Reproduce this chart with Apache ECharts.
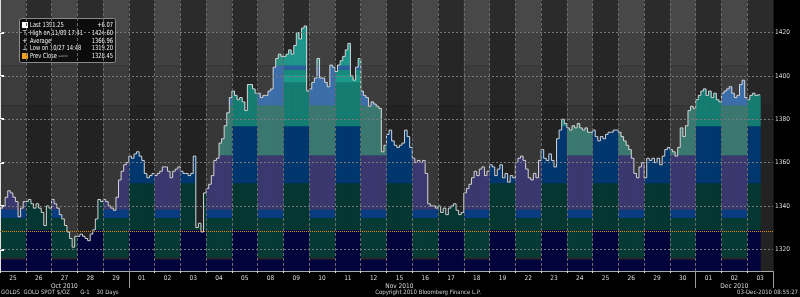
<!DOCTYPE html>
<html><head><meta charset="utf-8">
<script src="https://cdn.jsdelivr.net/npm/echarts@6/dist/echarts.min.js"></script>
<style>html,body{margin:0;padding:0;background:#000;}#c{width:800px;height:297px;}</style>
</head><body><div id="c"></div>
<script>
// ---------- data ----------
const dayLabels = ['25','26','27','28','29','01','02','03','04','05','08','09','10','11','12','15','16','17','18','19','22','23','24','25','26','29','30','01','02','03'];
const monthLabelDays = [2, 15, 28];
const monthLabelTexts = ['Oct 2010', 'Nov 2010', 'Dec 2010'];
const monthStartDays = [5, 27];
const barsPerDay = 10;
const closes = [
  1339,1340,1344,1347,1346,1344,1342,1335,1339,1342,
  1342,1343,1341,1339,1341,1339,1337,1331,1340,1339,
  1343,1341,1339,1336,1334,1331,1328,1325,1321,1326,
  1326,1327,1326,1325,1324,1327,1329,1334,1343,1342,
  1343,1342,1340,1339,1338,1344,1352,1356,1359,1360,
  1363,1362,1364,1365,1363,1361,1355,1353,1354,1355,
  1354,1355,1356,1358,1358,1356,1353,1356,1357,1358,
  1356,1355,1355,1354,1355,1363,1330,1332,1328,1346,
  1348,1350,1354,1361,1362,1369,1371,1377,1383,1390,
  1393,1391,1389,1390,1388,1384,1396,1396,1394,1392,
  1392,1390,1391,1391,1393,1394,1404,1408,1410,1409,
  1409,1410,1412,1410,1414,1420,1417,1422,1423,1393,
  1394,1397,1399,1408,1399,1399,1397,1395,1405,1404,
  1402,1405,1407,1409,1412,1415,1400,1398,1404,1408,
  1393,1391,1390,1386,1388,1387,1386,1385,1365,1368,
  1373,1375,1370,1368,1367,1368,1369,1375,1372,1367,
  1362,1360,1361,1360,1361,1355,1341,1340,1340,1339,
  1340,1337,1339,1336,1339,1340,1341,1338,1336,1337,
  1346,1348,1350,1353,1356,1354,1357,1358,1354,1356,
  1359,1358,1354,1357,1359,1353,1355,1351,1354,1353,
  1360,1362,1363,1361,1357,1353,1352,1355,1353,1361,
  1366,1362,1361,1364,1361,1358,1371,1375,1380,1378,
  1376,1375,1377,1376,1378,1376,1375,1376,1374,1374,
  1375,1372,1370,1372,1371,1373,1374,1374,1375,1375,
  1374,1372,1370,1368,1366,1362,1355,1353,1358,1360,
  1353,1362,1361,1362,1360,1362,1359,1363,1366,1367,
  1366,1365,1363,1367,1376,1372,1377,1384,1386,1385,
  1389,1391,1393,1394,1391,1393,1390,1392,1389,1388,
  1392,1393,1394,1395,1392,1390,1391,1396,1398,1390,
  1389,1391,1392,1391,1391.25
];
const yTicks = [1320, 1340, 1360, 1380, 1400, 1420];
const yMin = 1310, yMax = 1435;
const prevClose = 1328.45;
const lastPrice = 1391.25;
const legendNames = ['Last 1391.25', 'High on 11/09 17:41', 'Average', 'Low on 10/27 14:48', 'Prev Close -----'];
const legendValues = ['+6.07', '1424.60', '1366.96', '1319.20', '1328.45'];
const footerLeft = 'GOLDS  GOLD SPOT $/OZ      G-1    30 Days';
const footerMid = 'Copyright 2010 Bloomberg Finance L.P.';
const footerRight = '03-Dec-2010 08:55:27';

// ---------- styling (price zones and colours) ----------
const oddBands = [[1310,1329,'#04043c'],[1329,1350.6,'#053732'],[1350.6,1376.9,'#00376e'],[1376.9,1397.1,'#157c72'],[1397.1,1400.8,'#1a9a8a'],[1400.8,1403,'#178a7e'],[1403,1404.9,'#2a60a0'],[1404.9,1440,'#1e968c']];
const evenBands = [[1310,1315.5,'#04043c'],[1315.5,1316.4,'#2a2a2a'],[1316.4,1334.6,'#053a35'],[1334.6,1338.5,'#0a3c82'],[1338.5,1363.5,'#3a386e'],[1363.5,1386.5,'#3a7870'],[1386.5,1404.9,'#3c6eaa'],[1404.9,1440,'#2a9082']];
const evenBg = [[1310,1386.5,'#373737'],[1386.5,1404.9,'#3c3c3c'],[1404.9,1420,'#414141'],[1420,1440,'#484848']];
const oddBg = [[1310,1386.5,'#222222'],[1386.5,1420,'#262626'],[1420,1440,'#2b2b2b']];
const FONT = "'DejaVu Sans Condensed', 'Liberation Sans Narrow', 'Liberation Sans', sans-serif";

function bandRects(api, x0, x1, bands, top) {
  const out = [];
  for (const [lo, hi, color] of bands) {
    const t = Math.min(hi, top);
    if (t <= lo) continue;
    const p0 = api.coord([x0, t]);
    const p1 = api.coord([x1, lo]);
    out.push({type: 'rect', shape: {x: p0[0], y: p0[1], width: p1[0] - p0[0] + 0.6, height: p1[1] - p0[1] + 0.3}, style: {fill: color}});
  }
  return out;
}
function bgRender(params, api) {
  const d = api.value(0);
  return {type: 'group', children: bandRects(api, d * barsPerDay, (d + 1) * barsPerDay, d % 2 === 0 ? evenBg : oddBg, yMax)};
}
function fillRender(params, api) {
  const i = api.value(0), c = api.value(1);
  const d = Math.floor(i / barsPerDay);
  return {type: 'group', children: bandRects(api, i, i + 1, d % 2 === 0 ? evenBands : oddBands, c)};
}
function lineRender(params, api) {
  const i = api.value(0), c = api.value(1), p = api.value(2);
  const a = api.coord([i, p]), b = api.coord([i, c]), e = api.coord([i + 1, c]);
  return {type: 'polyline', shape: {points: [a, b, e]}, style: {stroke: '#d4d4d4', lineWidth: 1, fill: null}};
}

const chart = echarts.init(document.getElementById('c'), null, {renderer: 'canvas'});
const legendChildren = [{type: 'rect', shape: {x: 19.5, y: 18.5, width: 96, height: 44, r: 2}, style: {fill: 'rgba(8,8,8,0.88)', stroke: '#8a8a8a', lineWidth: 1}}];
const rowY = [25, 33, 40.7, 48.3, 56];
const icons = ['', '\u22A4', '+', '\u22A5', ''];
legendNames.forEach((n, k) => {
  if (k === 0 || k === 4) {
    legendChildren.push({type: 'rect', shape: {x: 22, y: rowY[k] - 3, width: 6, height: 6}, style: {fill: k === 0 ? '#ffffff' : '#f0a020'}});
  } else {
    legendChildren.push({type: 'text', x: 25, y: rowY[k], style: {text: icons[k], fill: '#fff', fontSize: 7, fontFamily: FONT, textAlign: 'center', textVerticalAlign: 'middle'}});
  }
  legendChildren.push({type: 'text', x: 30, y: rowY[k], scaleX: 0.82, style: {text: n, fill: '#f4f4f4', fontSize: 7, fontFamily: FONT, textVerticalAlign: 'middle'}});
  legendChildren.push({type: 'text', x: 113, y: rowY[k], scaleX: 0.82, style: {text: legendValues[k], fill: '#f4f4f4', fontSize: 7, fontFamily: FONT, textAlign: 'right', textVerticalAlign: 'middle'}});
});

const option = {
  backgroundColor: '#000',
  animation: false,
  grid: {left: 0, right: 27, top: 0, bottom: 26, containLabel: false},
  xAxis: [
    {type: 'category', data: dayLabels, boundaryGap: true, position: 'bottom',
     axisLine: {show: true, lineStyle: {color: '#aaa', width: 1}},
     axisTick: {show: true, length: 2, lineStyle: {color: '#ddd'}},
     axisLabel: {color: '#dcdcdc', fontSize: 6.5, fontFamily: FONT, margin: 3, lineHeight: 8, interval: 0,
       formatter: (v, idx) => { const m = monthLabelDays.indexOf(idx); return m >= 0 ? v + '\n' + monthLabelTexts[m] : v; }},
     splitLine: {show: false}},
    {type: 'category', data: dayLabels, boundaryGap: true, position: 'bottom',
     axisLine: {show: false}, axisLabel: {show: false}, splitLine: {show: false},
     axisTick: {show: true, length: 17, interval: (idx) => monthStartDays.indexOf(idx) >= 0, lineStyle: {color: '#9a9a9a', width: 1}}},
    {type: 'value', min: 0, max: dayLabels.length * barsPerDay, show: false}
  ],
  yAxis: {type: 'value', position: 'right', min: yMin, max: yMax,
    axisLine: {show: true, lineStyle: {color: '#e0e0e0', width: 1}},
    axisTick: {show: true, customValues: yTicks, length: 4, lineStyle: {color: '#fff', width: 2}},
    axisLabel: {show: true, customValues: yTicks, color: '#dcdcdc', fontSize: 6.5, fontFamily: FONT, margin: 2, formatter: v => String(v)},
    splitLine: {show: false}},
  series: [
    {type: 'custom', xAxisIndex: 2, z: -3, silent: true, renderItem: bgRender, data: dayLabels.map((d, i) => [i])},
    {type: 'custom', xAxisIndex: 2, z: -2, silent: true, renderItem: fillRender, data: closes.map((c, i) => [i, c])},
    {type: 'line', xAxisIndex: 2, z: -1, silent: true, data: [], symbol: 'none',
     markLine: {silent: true, symbol: 'none', label: {show: false},
       data: yTicks.map(v => ({yAxis: v, lineStyle: {color: '#7a7a7a', type: [2, 2], width: 1}}))
         .concat(dayLabels.slice(1).map((d, i) => ({xAxis: (i + 1) * barsPerDay, lineStyle: {color: '#6a6a6a', type: [3, 2], width: 1}})))}},
    {type: 'custom', xAxisIndex: 2, z: 2, silent: true, renderItem: lineRender, data: closes.map((c, i) => [i, c, i > 0 ? closes[i - 1] : c])},
    {type: 'line', xAxisIndex: 2, z: 3, silent: true, data: [], symbol: 'none',
     markLine: {silent: true, symbol: 'none', data: [
       {yAxis: prevClose, lineStyle: {color: '#d88a1a', type: [1, 1], width: 1}, label: {show: false}},
       {yAxis: lastPrice, lineStyle: {opacity: 0}, label: {show: true, position: 'end', distance: 2, formatter: String(lastPrice),
         color: '#000', backgroundColor: '#f2f2f2', borderRadius: 3, padding: [1, 2], fontSize: 6.5, fontFamily: FONT}}
     ]}}
  ],
  graphic: [
    {type: 'group', children: legendChildren},
    {type: 'text', x: 1, y: 292, style: {text: footerLeft, fill: '#d0d0d0', fontSize: 6, fontFamily: FONT, textVerticalAlign: 'middle'}},
    {type: 'text', x: 428, y: 292, style: {text: footerMid, fill: '#d0d0d0', fontSize: 6, fontFamily: FONT, textAlign: 'center', textVerticalAlign: 'middle'}},
    {type: 'text', x: 798, y: 292, style: {text: footerRight, fill: '#d0d0d0', fontSize: 6, fontFamily: FONT, textAlign: 'right', textVerticalAlign: 'middle'}}
  ]
};
chart.setOption(option);
</script></body></html>
